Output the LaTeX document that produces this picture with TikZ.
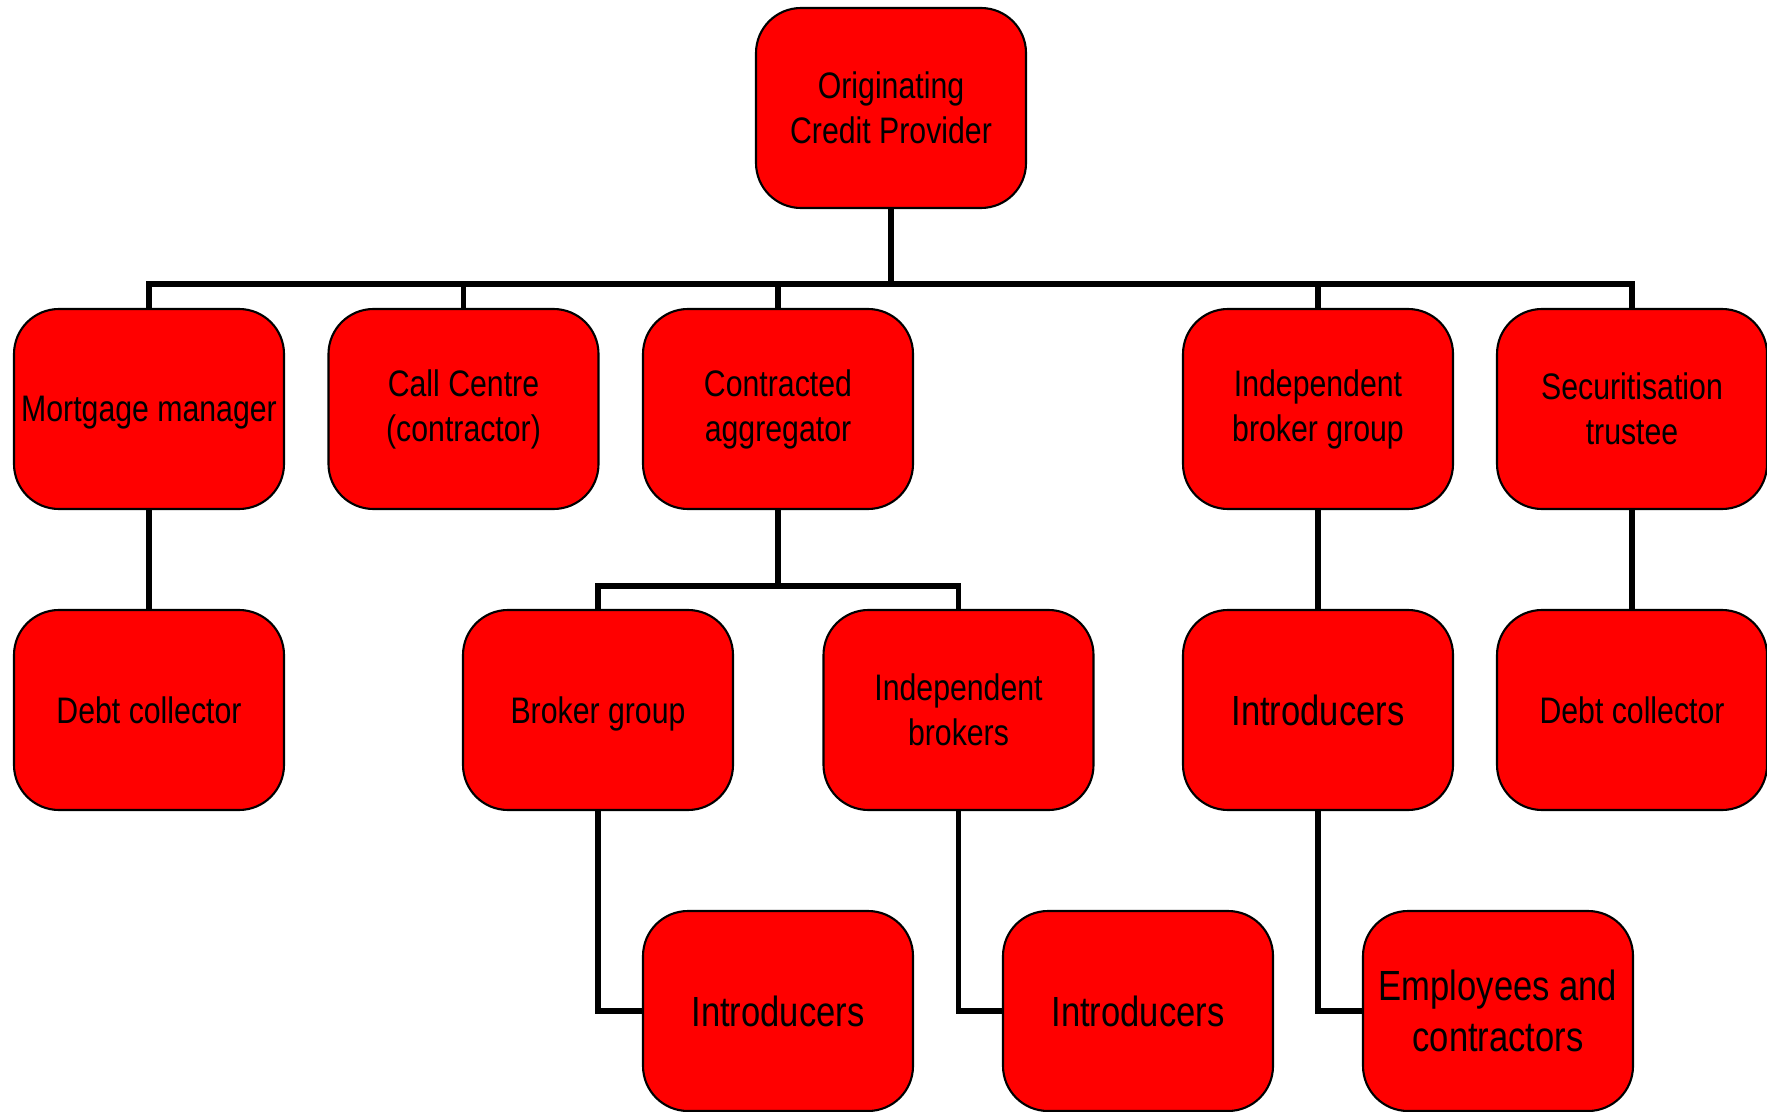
\documentclass[tikz,border=0pt]{standalone}
\usepackage{fontspec}
\setmainfont{Liberation Sans}[FakeStretch=0.82]

\begin{document}
\begin{tikzpicture}
\tikzset{Box/.style = {draw, fill = red, line width = 0.6pt, rounded corners = 0.45cm, minimum width = 2.7cm, minimum height = 2cm, inner sep = 0pt, align = center, font = \fontsize{10.5}{12.8}\selectfont},
  Big/.style = {font = \fontsize{12}{14.5}\selectfont},
  Flat/.style = {text depth = 0pt},
  Link/.style = {line width = 1.5pt}}
\useasboundingbox (0,0) rectangle (17.67,-11.12);
\node[Box] (1) at (8.91,-1.08) {Originating\\Credit Provider};
\node[Box, Flat] (2) at (1.49,-4.09) {Mortgage manager}; \node[Box] (3) at (4.635,-4.09) {Call Centre\\(contractor)}; \node[Box] (4) at (7.78,-4.09) {Contracted\\aggregator}; \node[Box] (5) at (13.18,-4.09) {Independent\\broker group}; \node[Box] (6) at (16.32,-4.09) {Securitisation\\trustee};
\node[Box] (7) at (1.49,-7.10) {Debt collector}; \node[Box, Flat] (8) at (5.98,-7.10) {Broker group}; \node[Box] (9) at (9.585,-7.10) {Independent\\brokers}; \node[Box, Big] (10) at (13.18,-7.10) {Introducers}; \node[Box] (11) at (16.32,-7.10) {Debt collector};
\node[Box, Big] (12) at (7.78,-10.11) {Introducers}; \node[Box, Big] (13) at (11.38,-10.11) {Introducers}; \node[Box, Big] (14) at (14.98,-10.11) {Employees and\\contractors};
\coordinate (bus) at (0,-2.84); \coordinate (agg) at (0,-5.86);
\draw[Link] (1.south) -- (1.south |- bus); \draw[Link] (2.north) |- (bus -| 6.north) -- (6.north);
\foreach \v in {3,4,5} \draw[Link] (\v.north) -- (\v.north |- bus);
\draw[Link] (4.south) -- (4.south |- agg); \draw[Link] (8.north) |- (agg -| 9.north) -- (9.north);
\draw[Link] (2.south) -- (7.north); \draw[Link] (5.south) -- (10.north); \draw[Link] (6.south) -- (11.north);
\draw[Link] (8.south) |- (12.west); \draw[Link] (9.south) |- (13.west); \draw[Link] (10.south) |- (14.west);
\end{tikzpicture}
\end{document}
